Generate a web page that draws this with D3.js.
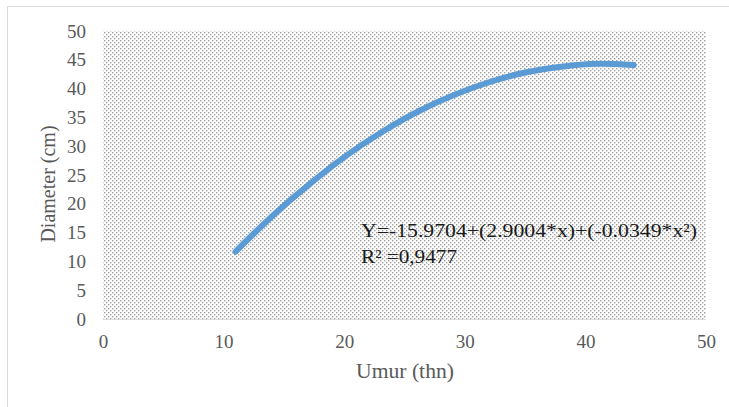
<!DOCTYPE html>
<html>
<head>
<meta charset="utf-8">
<script src="https://cdn.jsdelivr.net/npm/d3@7"></script>
</head>
<body style="margin:0; background:#fff">
<div id="chart"></div>
<script>
var W = 729, H = 407;
var margin = ({top: 31, right: 23, bottom: 88, left: 103});
var FONT = "'Liberation Serif'";

// umur (thn) vs diameter (cm)
var umur = [11, 14, 17, 20, 23, 26, 29, 32, 35, 38, 41, 44];
var diameter = [11.7, 17.8, 23.2, 28.1, 32.3, 35.9, 38.8, 41.1, 42.8, 43.8, 44.3, 44.1];
var xTicks = [0, 10, 20, 30, 40, 50];
var yTicks = [0, 5, 10, 15, 20, 25, 30, 35, 40, 45, 50];
var eqLines = ["Y=-15.9704+(2.9004*x)+(-0.0349*x\u00B2)", "R\u00B2 =0,9477"];

var svg = d3.select("#chart").append("svg")
    .attr("width", W).attr("height", H);

// dotted pattern like the excel fill
var defs = svg.append("defs");
var pat = defs.append("pattern")
    .attr("id", "dots")
    .attr("patternUnits", "userSpaceOnUse")
    .attr("width", 4).attr("height", 4);
pat.append("rect").attr("width", 4).attr("height", 4).attr("fill", "#fff");
pat.append("rect").attr("x", 0).attr("y", 0).attr("width", 1.4).attr("height", 1.4).attr("fill", "#a0a0a0");
pat.append("rect").attr("x", 2).attr("y", 2).attr("width", 1.4).attr("height", 1.4).attr("fill", "#a0a0a0");

// chart area border (only top/left visible)
svg.append("rect")
    .attr("x", 7.5).attr("y", 6.5)
    .attr("width", 900).attr("height", 600)
    .attr("fill", "none").attr("stroke", "#d9d9d9");

var x = d3.scaleLinear().domain([0, 50]).range([margin.left, W - margin.right]);
var y = d3.scaleLinear().domain([0, 50]).range([H - margin.bottom, margin.top]);

svg.append("rect")
    .attr("x", x(0)).attr("y", y(50))
    .attr("width", x(50) - x(0)).attr("height", y(0) - y(50))
    .attr("fill", "url(#dots)");

// bottom line of the plot
svg.append("line")
    .attr("x1", x(0)).attr("x2", x(50))
    .attr("y1", y(0) + 0.5).attr("y2", y(0) + 0.5)
    .attr("stroke", "#d9d9d9");

var xAxis = g => g
    .attr("transform", `translate(0,${y(0)})`)
    .call(d3.axisBottom(x).tickValues(xTicks).tickSize(0).tickPadding(16))
    .call(g => g.select(".domain").remove())
    .call(g => g.selectAll("text").attr("fill", "#595959").attr("font-size", 19)
        .style("font-family", FONT));

var yAxis = g => g
    .attr("transform", `translate(${x(0)},0)`)
    .call(d3.axisLeft(y).tickValues(yTicks).tickSize(0).tickPadding(17))
    .call(g => g.select(".domain").remove())
    .call(g => g.selectAll("text").attr("fill", "#595959").attr("font-size", 19)
        .style("font-family", FONT));

svg.append("g").call(xAxis);
svg.append("g").call(yAxis);

var line = d3.line()
    .x((d, i) => x(umur[i]))
    .y(d => y(d))
    .curve(d3.curveNatural);

svg.append("path")
    .datum(diameter)
    .attr("d", line)
    .attr("fill", "none")
    .attr("stroke", "#5b9bd5")
    .attr("stroke-width", 6)
    .attr("stroke-linecap", "round");

// axis titles
svg.append("text")
    .attr("x", 405).attr("y", 378)
    .attr("text-anchor", "middle")
    .attr("fill", "#595959").attr("font-size", 20)
    .style("font-family", FONT)
    .attr("textLength", 98).attr("lengthAdjust", "spacingAndGlyphs")
    .text("Umur (thn)");

svg.append("text")
    .attr("transform", "translate(55,184) rotate(-90)")
    .attr("text-anchor", "middle")
    .attr("fill", "#595959").attr("font-size", 20)
    .style("font-family", FONT)
    .text("Diameter (cm)");

// equation label
svg.append("g").selectAll("text")
    .data(eqLines)
    .join("text")
    .attr("x", 361)
    .attr("y", (d, i) => 237 + i * 26)
    .attr("fill", "#1a1a1a")
    .attr("font-size", 19)
    .style("font-family", FONT)
    .attr("textLength", (d, i) => i == 0 ? 336 : 96)
    .attr("lengthAdjust", "spacingAndGlyphs")
    .text(d => d);
</script>
</body>
</html>
